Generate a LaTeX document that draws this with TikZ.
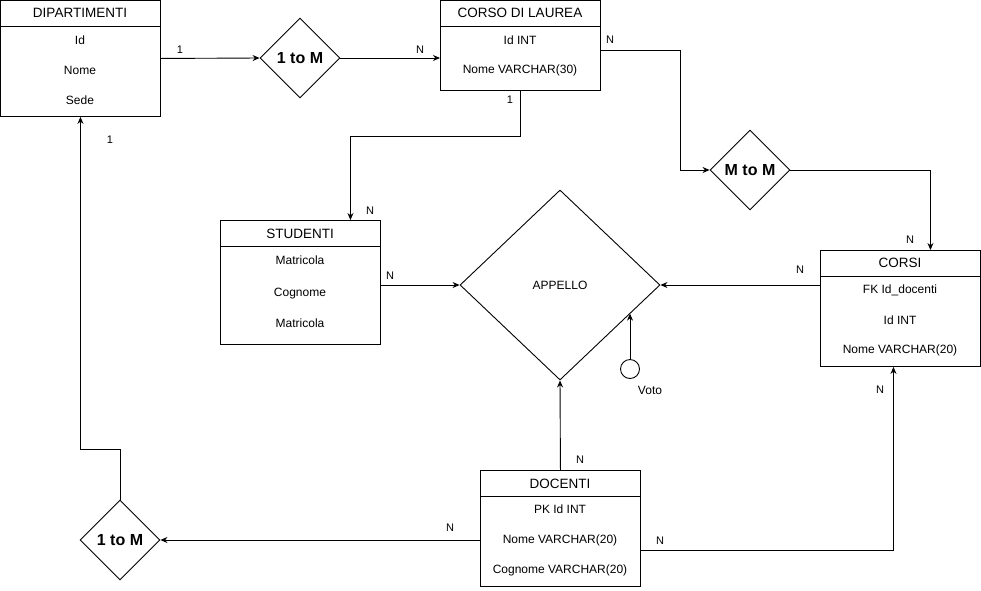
\documentclass[tikz,border=0pt]{standalone}
\usepackage{fontspec}
\setmainfont{Liberation Sans}
\usetikzlibrary{arrows.meta,shapes.geometric}

\begin{document}
\begin{tikzpicture}[x=1pt,y=-1pt,line width=0.9pt,
        font=\fontsize{12}{14}\selectfont,
        entity/.style={draw,minimum width=160pt,anchor=north west,inner sep=0pt},
        title/.style={font=\fontsize{13.5}{15}\selectfont},
        rel/.style={draw,diamond,aspect=1,inner sep=0pt,minimum width=80pt,minimum height=80pt,
          font=\fontsize{16}{18}\selectfont\bfseries},
        card/.style={font=\fontsize{11}{13}\selectfont},
        link/.style={-{Stealth[length=7pt,width=6pt]}}]
      \useasboundingbox (0,0) rectangle (981,590);
      % entities
      \node[entity,minimum height=116pt] (dip) at (0,0) {};
      \draw (dip.north west) ++(0,26) -- ++(160,0);
      \node[title] (dipT) at (80,13) {DIPARTIMENTI};
      \node (dipA) at (80,40) {Id};
      \node (dipB) at (80,70) {Nome};
      \node (dipC) at (80,100) {Sede};

      \node[entity,minimum height=90pt] (corso) at (440,0) {};
      \draw (corso.north west) ++(0,26) -- ++(160,0);
      \node[title] (corsoT) at (520,13) {CORSO DI LAUREA};
      \node (corsoA) at (520,40) {Id INT};
      \node (corsoB) at (520,70) {Nome VARCHAR(30)};

      \node[entity,minimum height=124pt] (stud) at (220,220) {};
      \draw (stud.north west) ++(0,26) -- ++(160,0);
      \node[title] (studT) at (300,234) {STUDENTI};
      \node (studA) at (300,260) {Matricola};
      \node (studB) at (300,294) {Cognome};
      \node (studC) at (300,323) {Matricola};

      \node[entity,minimum height=116pt] (corsi) at (820,250) {};
      \draw (corsi.north west) ++(0,26) -- ++(160,0);
      \node[title] (corsiT) at (900,263) {CORSI};
      \node (corsiA) at (900,290) {FK Id\_docenti};
      \node (corsiB) at (900,320) {Id INT};
      \node (corsiC) at (900,350) {Nome VARCHAR(20)};

      \node[entity,minimum height=116pt] (doc) at (480,470) {};
      \draw (doc.north west) ++(0,26) -- ++(160,0);
      \node[title] (docT) at (560,484) {DOCENTI};
      \node (docA) at (560,509) {PK Id INT};
      \node (docB) at (560,540) {Nome VARCHAR(20)};
      \node (docC) at (560,570) {Cognome VARCHAR(20)};

      % relationships
      \node[rel] (relA) at (300,58) {1 to M};
      \node[rel] (relM) at (750,170) {M to M};
      \node[rel] (relB) at (120,540) {1 to M};
      \node[draw,diamond,inner sep=0pt,minimum width=200pt,minimum height=190pt] (appello) at (560,285) {APPELLO};
      \node[draw,circle,inner sep=0pt,minimum size=19pt] (voto) at (630,369) {};
      \node (votoL) at (650,390) {Voto};

      % connectors
      \draw[link] (dip.east) -- (relA.west);
      \draw[link] (relA.east) -- (relA.east -| corso.west);
      \draw[link] ([yshift=-50pt]corso.north east) -- ++(80,0) |- (relM.west);
      \draw[link] (relM.east) -| ([xshift=30pt]corsi.north);
      \draw[link] (corso.south) -- ++(0,46) -| ([xshift=50pt]stud.north);
      \draw[link] (appello.west -| stud.east) -- (appello.west);
      \draw[link] (appello.east -| corsi.west) -- (appello.east);
      \path (appello.east) -- coordinate[pos=0.3] (votoEnd) (appello.south);
      \draw[link] (voto.north) -- (voto.north |- votoEnd);
      \draw[link] (doc.north) -- (appello.south);
      \draw[link] (relB.east -| doc.west) -- (relB.east);
      \draw[link] (relB.north) -- ++(0,-50) -| (dip.south);
      \draw[link] ([yshift=-80pt]doc.north east) -| ([xshift=-7pt]corsi.south);

      % cardinalities
      \node[card] (c1) at (180,50) {1};
      \node[card] (c2) at (420,50) {N};
      \node[card] (c3) at (610,40) {N};
      \node[card] (c4) at (510,100) {1};
      \node[card] (c5) at (370,211) {N};
      \node[card] (c6) at (390,276) {N};
      \node[card] (c7) at (800,270) {N};
      \node[card] (c8) at (910,240) {N};
      \node[card] (c9) at (110,140) {1};
      \node[card] (c10) at (580,460) {N};
      \node[card] (c11) at (450,528) {N};
      \node[card] (c12) at (660,541) {N};
      \node[card] (c13) at (880,390) {N};
    \end{tikzpicture}
\end{document}
